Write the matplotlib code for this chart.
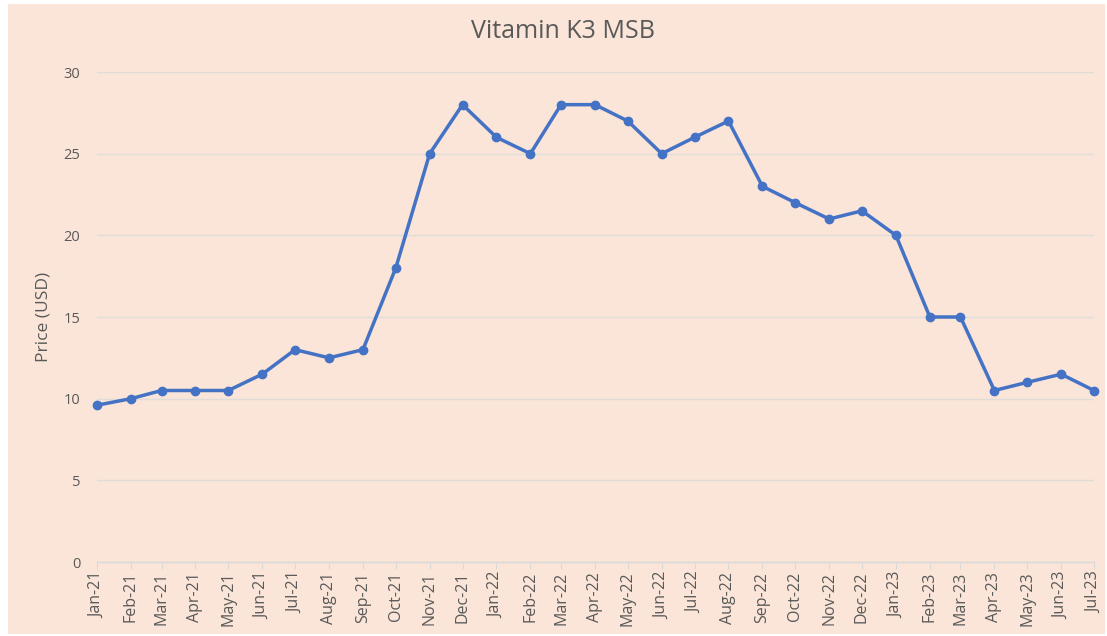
import pandas as pd
import matplotlib
matplotlib.use("Agg")
import matplotlib.pyplot as plt
import matplotlib.dates as mdates
from matplotlib.patches import Rectangle

# monthly price, Jan-21 .. Jul-23
months = pd.date_range("2021-01-01", "2023-07-01", freq="MS")
prices = [9.6, 10.0, 10.5, 10.5, 10.5, 11.5, 13.0, 12.5, 13.0, 18.0, 25.0, 28.0,
          26.0, 25.0, 28.0, 28.0, 27.0, 25.0, 26.0, 27.0, 23.0, 22.0, 21.0, 21.5,
          20.0, 15.0, 15.0, 10.5, 11.0, 11.5, 10.5]
yticks = [0, 5, 10, 15, 20, 25, 30]

bg = "#FAE5D8"
txt = "#595959"
plt.rcParams['font.family'] = ['Open Sans', 'DejaVu Sans']

fig = plt.figure(figsize=(11.07, 6.36), dpi=100, facecolor="white")
fig.patches.append(Rectangle((8 / 1107, 2 / 636), 1097 / 1107, 630 / 636,
                             transform=fig.transFigure, facecolor=bg,
                             edgecolor="none", zorder=-1))

ax = fig.add_axes([97 / 1107, 1 - 562 / 636, (1094 - 97) / 1107, (562 - 72) / 636])
ax.patch.set_alpha(0)

ax.plot(months, prices, color="#4472C4", linewidth=2.5, marker="o",
        markersize=6, zorder=3, clip_on=False)

ax.set_ylim(0, 30)
ax.set_yticks(yticks)
ax.set_xlim(months[0], months[-1])
ax.set_xticks(months)
ax.xaxis.set_major_formatter(mdates.DateFormatter("%b-%y"))
ax.grid(axis="y", color="#E0DCD8", linewidth=1)
ax.set_axisbelow(True)

for s in ["top", "right", "left"]:
    ax.spines[s].set_visible(False)
ax.spines["bottom"].set_color("#D9D9D9")
ax.spines["bottom"].set_linewidth(1)
ax.tick_params(axis="y", length=0, pad=12, labelsize=10.5, labelcolor=txt)
ax.tick_params(axis="x", length=5, color="#D9D9D9", labelsize=11.5,
               labelcolor=txt, rotation=90, pad=2)

fig.text(44 / 1107, 1 - 317 / 636, "Price (USD)", rotation=90, ha="center",
         va="center", fontsize=12.5, color=txt)
fig.text(563 / 1107, 1 - 31 / 636, "Vitamin K3 MSB", ha="center", va="center",
         fontsize=18, color=txt)

fig.savefig("out.png", dpi=100, facecolor=fig.get_facecolor())
